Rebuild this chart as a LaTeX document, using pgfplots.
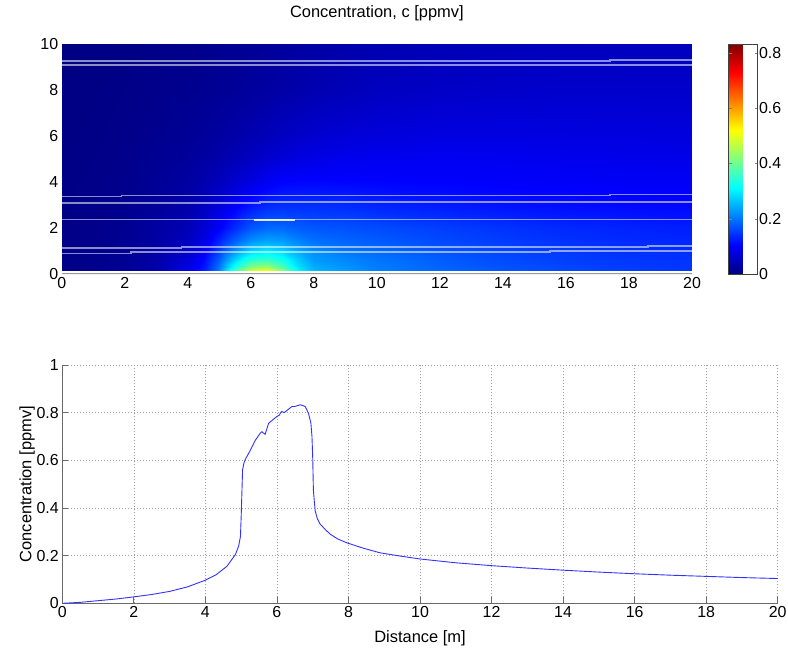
\documentclass[border=0pt]{standalone}
\usepackage{fontspec}
\setmainfont{Liberation Sans}
\usepackage{pgfplots}
\pgfplotsset{compat=1.18}
\definecolor{curveblue}{RGB}{50,50,255}
\definecolor{axgray}{RGB}{105,105,105}
\begin{document}
\begin{tikzpicture}
\path[use as bounding box] (0,0) rectangle (788bp,-652bp);
% ---------- top: heat map ----------
\begin{axis}[
  at={(61.7bp,-274bp)}, anchor=south west,
  width=630.3bp, height=230bp, scale only axis,
  view={0}{90},
  xmin=0, xmax=20, ymin=0, ymax=10,
  xtick={0,2,...,20}, ytick={0,2,...,10}, ztick=\empty,
  axis line style={draw=none},
  major tick length=0pt,
  /pgf/number format/assume math mode=true,
  tick label style={font=\fontsize{16}{19}\selectfont},
  title={Concentration, c [ppmv]},
  title style={font=\fontsize{16.5}{19}\selectfont, at={(0.5,1)}, anchor=base, yshift=21bp},
  colormap/jet,
  point meta min=0, point meta max=0.832,
  colorbar,
  colorbar style={
    at={(parent axis.north east)}, anchor=north west, xshift=28bp,
    width=29bp, height=230bp, scale only axis,
    ytick={0,0.2,0.4,0.6,0.8},
    yticklabel pos=right,
    tick align=inside, major tick length=3bp,
    axis line style={black!75},
    /pgf/number format/assume math mode=true,
    yticklabel style={font=\fontsize{16}{19}\selectfont, xshift=-2bp},
  },
]
\addplot3[surf, shader=interp, mesh/cols=20, mesh/ordering=x varies] coordinates {
(0,0.15,0.006) (1,0.15,0.01) (2,0.15,0.018) (3,0.15,0.035) (4,0.15,0.085) (4.5,0.15,0.13) (5,0.15,0.21) (5.5,0.15,0.37) (6,0.15,0.49) (6.5,0.15,0.53) (7,0.15,0.44) (7.5,0.15,0.31) (8,0.15,0.26) (9,0.15,0.23) (10,0.15,0.21) (12,0.15,0.19) (14,0.15,0.175) (16,0.15,0.165) (18,0.15,0.155) (20,0.15,0.15)
(0,0.3,0.006) (1,0.3,0.01) (2,0.3,0.018) (3,0.3,0.034) (4,0.3,0.08) (4.5,0.3,0.12) (5,0.3,0.2) (5.5,0.3,0.33) (6,0.3,0.42) (6.5,0.3,0.44) (7,0.3,0.38) (7.5,0.3,0.29) (8,0.3,0.245) (9,0.3,0.225) (10,0.3,0.205) (12,0.3,0.185) (14,0.3,0.17) (16,0.3,0.16) (18,0.3,0.152) (20,0.3,0.148)
(0,0.6,0.006) (1,0.6,0.01) (2,0.6,0.017) (3,0.6,0.032) (4,0.6,0.07) (4.5,0.6,0.11) (5,0.6,0.18) (5.5,0.6,0.28) (6,0.6,0.35) (6.5,0.6,0.36) (7,0.6,0.33) (7.5,0.6,0.27) (8,0.6,0.23) (9,0.6,0.215) (10,0.6,0.2) (12,0.6,0.18) (14,0.6,0.165) (16,0.6,0.155) (18,0.6,0.148) (20,0.6,0.145)
(0,1,0.006) (1,1,0.01) (2,1,0.016) (3,1,0.03) (4,1,0.06) (4.5,1,0.095) (5,1,0.155) (5.5,1,0.225) (6,1,0.28) (6.5,1,0.3) (7,1,0.28) (7.5,1,0.245) (8,1,0.22) (9,1,0.2) (10,1,0.19) (12,1,0.172) (14,1,0.16) (16,1,0.15) (18,1,0.143) (20,1,0.14)
(0,1.5,0.006) (1,1.5,0.009) (2,1.5,0.015) (3,1.5,0.028) (4,1.5,0.052) (4.5,1.5,0.08) (5,1.5,0.13) (5.5,1.5,0.18) (6,1.5,0.22) (6.5,1.5,0.235) (7,1.5,0.23) (7.5,1.5,0.21) (8,1.5,0.195) (9,1.5,0.185) (10,1.5,0.178) (12,1.5,0.163) (14,1.5,0.152) (16,1.5,0.143) (18,1.5,0.137) (20,1.5,0.133)
(0,2,0.006) (1,2,0.009) (2,2,0.014) (3,2,0.026) (4,2,0.045) (4.5,2,0.068) (5,2,0.10) (5.5,2,0.14) (6,2,0.175) (6.5,2,0.19) (7,2,0.19) (7.5,2,0.18) (8,2,0.175) (9,2,0.17) (10,2,0.165) (12,2,0.155) (14,2,0.145) (16,2,0.137) (18,2,0.132) (20,2,0.128)
(0,3,0.005) (1,3,0.008) (2,3,0.012) (3,3,0.022) (4,3,0.035) (4.5,3,0.05) (5,3,0.07) (5.5,3,0.095) (6,3,0.12) (6.5,3,0.135) (7,3,0.14) (7.5,3,0.14) (8,3,0.14) (9,3,0.138) (10,3,0.132) (12,3,0.125) (14,3,0.118) (16,3,0.113) (18,3,0.11) (20,3,0.108)
(0,4,0.005) (1,4,0.007) (2,4,0.01) (3,4,0.018) (4,4,0.028) (4.5,4,0.038) (5,4,0.05) (5.5,4,0.065) (6,4,0.08) (6.5,4,0.095) (7,4,0.105) (7.5,4,0.108) (8,4,0.108) (9,4,0.107) (10,4,0.105) (12,4,0.103) (14,4,0.101) (16,4,0.1) (18,4,0.098) (20,4,0.097)
(0,5,0.004) (1,5,0.006) (2,5,0.009) (3,5,0.015) (4,5,0.022) (4.5,5,0.028) (5,5,0.036) (5.5,5,0.045) (6,5,0.055) (6.5,5,0.065) (7,5,0.073) (7.5,5,0.08) (8,5,0.085) (9,5,0.09) (10,5,0.093) (12,5,0.094) (14,5,0.092) (16,5,0.09) (18,5,0.088) (20,5,0.087)
(0,6,0.004) (1,6,0.005) (2,6,0.008) (3,6,0.012) (4,6,0.018) (4.5,6,0.022) (5,6,0.027) (5.5,6,0.033) (6,6,0.04) (6.5,6,0.047) (7,6,0.054) (7.5,6,0.06) (8,6,0.065) (9,6,0.071) (10,6,0.075) (12,6,0.08) (14,6,0.08) (16,6,0.079) (18,6,0.078) (20,6,0.077)
(0,8,0.003) (1,8,0.004) (2,8,0.006) (3,8,0.009) (4,8,0.012) (4.5,8,0.014) (5,8,0.017) (5.5,8,0.02) (6,8,0.024) (6.5,8,0.028) (7,8,0.032) (7.5,8,0.036) (8,8,0.04) (9,8,0.046) (10,8,0.052) (12,8,0.058) (14,8,0.061) (16,8,0.062) (18,8,0.062) (20,8,0.062)
(0,10,0.002) (1,10,0.003) (2,10,0.005) (3,10,0.007) (4,10,0.009) (4.5,10,0.011) (5,10,0.013) (5.5,10,0.015) (6,10,0.018) (6.5,10,0.021) (7,10,0.024) (7.5,10,0.027) (8,10,0.03) (9,10,0.035) (10,10,0.039) (12,10,0.044) (14,10,0.047) (16,10,0.049) (18,10,0.05) (20,10,0.05)
};
\pgfplotsset{wl/.style={white, opacity=0.55, line width=1.5bp}}
\addplot3[wl] coordinates {(0,9.27,0.9) (17.4,9.27,0.9) (17.4,9.31,0.9) (20,9.31,0.9)};
\addplot3[wl] coordinates {(0,9.08,0.9) (20,9.08,0.9)};
\addplot3[wl] coordinates {(0,3.36,0.9) (1.9,3.36,0.9) (1.9,3.42,0.9) (17.4,3.42,0.9) (17.4,3.46,0.9) (20,3.46,0.9)};
\addplot3[wl] coordinates {(0,3.08,0.9) (6.3,3.08,0.9) (6.3,3.14,0.9) (20,3.14,0.9)};
\addplot3[wl] coordinates {(0,2.36,0.9) (20,2.36,0.9)};
\addplot3[white, opacity=0.85, line width=1.6bp] coordinates {(6.1,2.36,0.9) (7.4,2.36,0.9)};
\addplot3[wl] coordinates {(0,1.14,0.9) (3.8,1.14,0.9) (3.8,1.18,0.9) (18.6,1.18,0.9) (18.6,1.21,0.9) (20,1.21,0.9)};
\addplot3[wl] coordinates {(0,0.90,0.9) (2.2,0.90,0.9) (2.2,0.96,0.9) (15.5,0.96,0.9) (15.5,1.00,0.9) (20,1.00,0.9)};
\addplot3[black!40, line width=2bp] coordinates {(0,0,0.9) (20,0,0.9)};
\end{axis}
% ---------- bottom: profile ----------
\begin{axis}[
  at={(62.3bp,-603.3bp)}, anchor=south west,
  width=715.4bp, height=238.3bp, scale only axis,
  xmin=0, xmax=20, ymin=0, ymax=1,
  xtick={0,2,...,20}, ytick={0,0.2,...,1},
  axis lines*=left,
  axis line style={axgray, line width=0.8bp, -},
  tick style={axgray, line width=0.8bp},
  tick align=inside, major tick length=6bp,
  grid=major,
  grid style={gray!75, line width=0.6bp, dash pattern=on 1bp off 2bp},
  /pgf/number format/assume math mode=true,
  tick label style={font=\fontsize{16}{19}\selectfont},
  label style={font=\fontsize{16.5}{19}\selectfont},
  xlabel={Distance [m]},
  ylabel={Concentration [ppmv]},
  xlabel style={at={(0.5,0)}, anchor=base, yshift=-39.5bp},
  ylabel style={at={(0,0.5)}, anchor=base, yshift=31bp},
]
\addplot[curveblue, line width=0.9bp] coordinates {
(0,0) (0.5,0.004) (1,0.011) (1.5,0.018) (2,0.027) (2.5,0.037) (3,0.05) (3.5,0.069) (4,0.097) (4.3,0.12) (4.6,0.155) (4.84,0.205) (4.93,0.24) (4.98,0.28) (5.0,0.36) (5.02,0.46) (5.04,0.56) (5.08,0.59) (5.12,0.605) (5.26,0.643) (5.4,0.685) (5.53,0.713) (5.58,0.72) (5.61,0.716) (5.67,0.709) (5.77,0.756) (6.0,0.784) (6.07,0.79) (6.1,0.80) (6.14,0.805) (6.2,0.80) (6.28,0.809) (6.42,0.826) (6.5,0.826) (6.58,0.83) (6.65,0.833) (6.72,0.83) (6.79,0.826) (6.88,0.798) (6.95,0.756) (6.98,0.7) (7.0,0.614) (7.02,0.473) (7.05,0.42) (7.07,0.388) (7.13,0.355) (7.21,0.332) (7.35,0.31) (7.49,0.29) (7.7,0.27) (7.95,0.254) (8.4,0.232) (8.88,0.212) (9.5,0.197) (10,0.186) (11,0.17) (12,0.158) (13,0.148) (14,0.139) (15,0.131) (16,0.124) (17,0.118) (18,0.113) (19,0.108) (20,0.104)
};
\end{axis}
\end{tikzpicture}
\end{document}
